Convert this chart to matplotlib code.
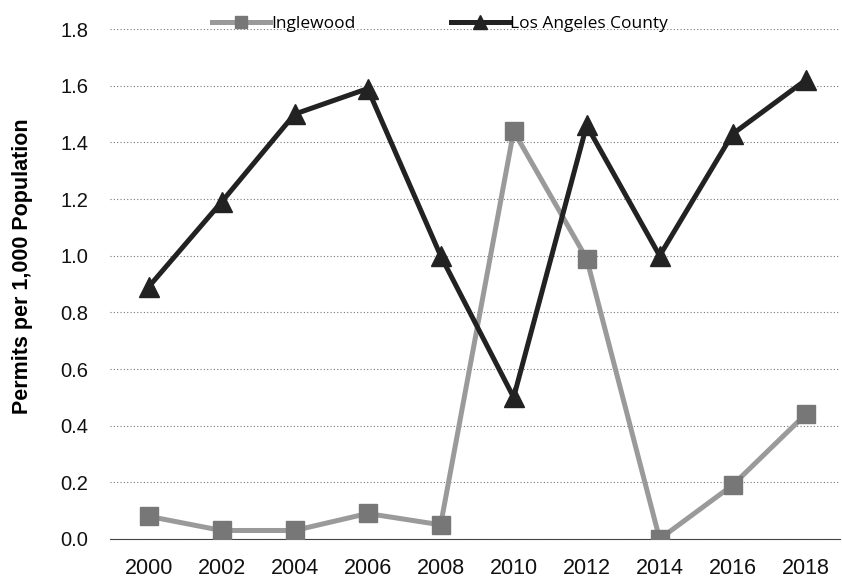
import matplotlib
matplotlib.use("Agg")
import matplotlib.pyplot as plt

years = [2000, 2002, 2004, 2006, 2008, 2010, 2012, 2014, 2016, 2018]
inglewood = [0.08, 0.03, 0.03, 0.09, 0.05, 1.44, 0.99, 0.00, 0.19, 0.44]
la_county = [0.89, 1.19, 1.50, 1.59, 1.00, 0.50, 1.46, 1.00, 1.43, 1.62]
y_ticks = [0.0, 0.2, 0.4, 0.6, 0.8, 1.0, 1.2, 1.4, 1.6, 1.8]

plt.rcParams['font.family'] = ['Liberation Sans', 'DejaVu Sans']

fig = plt.figure(figsize=(8.42, 5.83), dpi=100)
ax = fig.add_axes([0.131, 0.0755, 0.867, 0.8745])

ax.plot(years, inglewood, color='#9a9a9a', lw=3.6, marker='s', ms=12.5,
        mfc='#777777', mec='#777777', label='Inglewood', zorder=3)
ax.plot(years, la_county, color='#222222', lw=3.6, marker='^', ms=14,
        mfc='#222222', mec='#222222', label='Los Angeles County', zorder=4)

ax.set_xlim(1998.95, 2018.95)
ax.set_ylim(0, 1.8)
ax.set_xticks(years)
ax.set_yticks(y_ticks)
ax.set_yticklabels([f"{v:.1f}" for v in y_ticks])
ax.tick_params(axis='both', length=0, colors='#111111')
ax.tick_params(axis='x', pad=14, labelsize=15.5)
ax.tick_params(axis='y', pad=16, labelsize=14.5)

ax.grid(axis='y', color='#777777', linestyle=(0, (1, 2)), linewidth=0.8)
for s in ['left', 'right', 'top']:
    ax.spines[s].set_visible(False)
ax.spines['bottom'].set_linestyle((0, (1, 1)))
ax.spines['bottom'].set_color('#444444')
ax.set_axisbelow(True)

ax.set_ylabel('Permits per 1,000 Population', fontsize=15.5, fontweight='bold')
ax.yaxis.set_label_coords(-0.106, 0.535)

fig.legend(loc='upper center', bbox_to_anchor=(0.523, 1.0), ncol=2, frameon=False,
           handlelength=3.3, columnspacing=5.5, handletextpad=0.1, markerscale=0.7,
           prop={'family': ['Open Sans', 'DejaVu Sans'], 'size': 12.5})

fig.savefig('out.png', dpi=100)
